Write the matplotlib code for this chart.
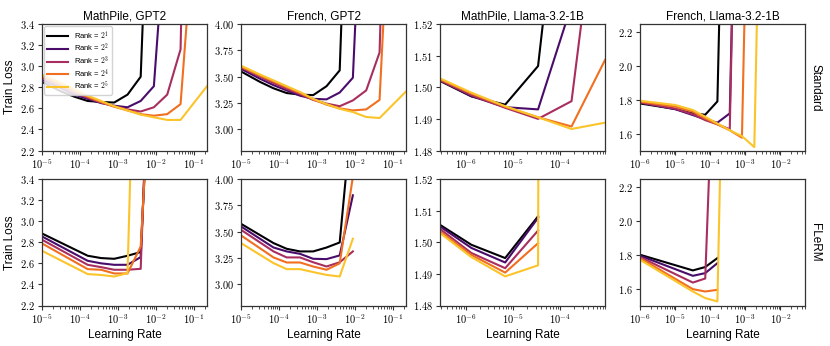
import numpy as np
import matplotlib
matplotlib.use("Agg")
import matplotlib.pyplot as plt
from matplotlib.ticker import FuncFormatter, LogLocator, FixedLocator

plt.rcParams['font.family'] = ['Liberation Sans', 'DejaVu Sans']
plt.rcParams['mathtext.fontset'] = 'cm'

nan = np.nan

# learning-rate grids
lr_gpt2 = [1e-5, 3.2e-5, 7.2e-5, 1.6e-4, 3.6e-4, 8e-4, 1.8e-3, 4e-3, 8.9e-3, 2e-2, 4.5e-2, 1e-1, 2.24e-1]
lr_gpt2_flerm = [1e-5, 7.2e-5, 1.6e-4, 3.6e-4, 8e-4, 1.8e-3, 4e-3, 8.9e-3]
lr_llama = [2.8e-7, 1.3e-6, 6.8e-6, 3.4e-5, 1.75e-4, 9e-4]
lr_llama_fr = [1e-6, 1e-5, 3.2e-5, 7.2e-5, 1.6e-4, 3.6e-4, 8e-4, 1.8e-3, 4e-3]

ranks = [1, 2, 3, 4, 5]

# Standard parametrisation, one row per rank
math_gpt2_std = [
    [2.85, 2.76, 2.71, 2.67, 2.66, 2.655, 2.73, 2.90, 6.2, nan, nan, nan, nan],
    [2.87, 2.79, 2.73, 2.69, 2.65, 2.625, 2.61, 2.67, 2.81, 4.55, nan, nan, nan],
    [2.89, 2.81, 2.75, 2.70, 2.655, 2.62, 2.59, 2.57, 2.61, 2.73, 3.16, 9.0, nan],
    [2.90, 2.82, 2.76, 2.71, 2.66, 2.615, 2.58, 2.545, 2.53, 2.545, 2.64, 4.3, nan],
    [2.92, 2.84, 2.78, 2.72, 2.67, 2.62, 2.58, 2.54, 2.515, 2.49, 2.49, nan, 2.81],
]
french_gpt2_std = [
    [3.55, 3.45, 3.39, 3.345, 3.33, 3.325, 3.41, 3.56, 7.1, nan, nan, nan, nan],
    [3.575, 3.48, 3.42, 3.37, 3.32, 3.29, 3.285, 3.35, 3.49, 6.3, nan, nan, nan],
    [3.59, 3.50, 3.44, 3.385, 3.335, 3.28, 3.245, 3.22, 3.275, 3.37, 3.73, 8.0, nan],
    [3.595, 3.51, 3.455, 3.40, 3.345, 3.285, 3.235, 3.20, 3.18, 3.19, 3.28, 5.8, nan],
    [3.605, 3.52, 3.465, 3.41, 3.355, 3.29, 3.24, 3.195, 3.165, 3.118, 3.108, nan, 3.36],
]
math_llama_std = [
    [1.502, 1.4971, 1.4945, 1.5067, 1.6, nan],
    [1.5023, 1.4972, 1.4937, 1.493, 1.526, nan],
    [1.5022, 1.4975, 1.4935, 1.490, 1.4956, 1.58],
    [1.5025, 1.498, 1.4938, 1.4905, 1.4876, 1.5086],
    [1.5028, 1.4983, 1.494, 1.4905, 1.4868, 1.4888],
]
french_llama_std = [
    [1.779, 1.746, 1.72, 1.712, 1.791, 5.0, nan, nan, nan],
    [1.785, 1.745, 1.71, 1.685, 1.665, 1.72, 5.0, nan, nan],
    [1.785, 1.748, 1.715, 1.68, 1.655, 1.626, 5.0, nan, nan],
    [1.79, 1.76, 1.73, 1.69, 1.655, 1.62, 1.576, 5.0, nan],
    [1.795, 1.77, 1.74, 1.70, 1.66, 1.62, 1.585, 1.52, 5.0],
]

# FLeRM
math_gpt2_flerm = [
    [2.883, nan, 2.672, 2.65, 2.643, 2.672, 2.707, 5.2],
    [2.855, nan, 2.624, 2.60, 2.586, 2.586, 2.659, 5.5],
    [2.824, nan, 2.586, 2.564, 2.539, 2.539, 2.548, 6.0],
    [2.789, nan, 2.545, 2.539, 2.504, 2.504, 2.76, 5.0],
    [2.719, nan, 2.498, 2.49, 2.475, 2.507, 7.0, nan],
]
french_gpt2_flerm = [
    [3.575, 3.392, 3.338, 3.313, 3.313, 3.35, 3.398, 4.73],
    [3.55, 3.35, 3.313, 3.29, 3.243, 3.24, 3.275, 3.845],
    [3.518, 3.313, 3.256, 3.256, 3.21, 3.17, 3.21, 3.313],
    [3.465, 3.256, 3.208, 3.208, 3.17, 3.139, 3.2, 4.02],
    [3.392, 3.202, 3.145, 3.145, 3.117, 3.09, 3.075, 3.433],
]
math_llama_flerm = [
    [1.5055, 1.4992, 1.495, 1.5082, nan, nan],
    [1.505, 1.4982, 1.4936, 1.5077, nan, nan],
    [1.5042, 1.4966, 1.4918, 1.5037, nan, nan],
    [1.5034, 1.496, 1.4904, 1.4997, nan, nan],
    [1.5029, 1.4953, 1.4892, 1.4927, 5.0, nan],
]
french_llama_flerm = [
    [1.801, nan, 1.708, 1.728, 1.781, nan, nan, nan, nan],
    [1.795, nan, 1.676, 1.692, 1.751, nan, nan, nan, nan],
    [1.787, nan, 1.636, 1.66, 3.6, nan, nan, nan, nan],
    [1.781, nan, 1.597, 1.583, 1.593, nan, nan, nan, nan],
    [1.771, nan, 1.583, 1.544, 1.524, 5.0, nan, nan, nan],
]

titles = ['MathPile, GPT2', 'French, GPT2', 'MathPile, Llama-3.2-1B', 'French, Llama-3.2-1B']
row_names = ['Standard', 'FLeRM']

panels = [
    [(lr_gpt2, math_gpt2_std), (lr_gpt2, french_gpt2_std), (lr_llama, math_llama_std), (lr_llama_fr, french_llama_std)],
    [(lr_gpt2_flerm, math_gpt2_flerm), (lr_gpt2_flerm, french_gpt2_flerm), (lr_llama, math_llama_flerm), (lr_llama_fr, french_llama_flerm)],
]

xlims = [(1e-5, 0.224), (1e-5, 0.224), (2.8e-7, 9e-4), (1e-6, 5e-2)]
ylims = [(2.2, 3.4), (2.8, 4.0), (1.48, 1.52), (1.5, 2.25)]
yticks = [np.arange(2.2, 3.41, 0.2), [3.0, 3.25, 3.5, 3.75, 4.0], np.arange(1.48, 1.521, 0.01), [1.6, 1.8, 2.0, 2.2]]
ydec = [1, 2, 2, 1]

colors = [plt.cm.inferno(v) for v in [0.0, 0.22, 0.45, 0.68, 0.86]]

fig = plt.figure(figsize=(8.3, 3.46), dpi=100)
W, H = 830, 346
col_left = [42, 241, 440, 640]
row_top = [24, 179]
ax_w, ax_h = 165, 126.5


def log_fmt(v, pos):
    return '$10^{%d}$' % int(round(np.log10(v)))


for r in range(2):
    for c in range(4):
        ax = fig.add_axes([col_left[c] / W, 1 - (row_top[r] + ax_h) / H, ax_w / W, ax_h / H])
        lr, losses = panels[r][c]
        x = np.array(lr)
        for k, ys in enumerate(losses):
            y = np.array(ys)
            m = ~np.isnan(y)
            ax.plot(x[m], y[m], color=colors[k], lw=1.5, label='Rank = $2^{%d}$' % ranks[k])
        ax.set_xscale('log')
        ax.set_xlim(*xlims[c])
        ax.set_ylim(*ylims[c])
        ax.yaxis.set_major_locator(FixedLocator(yticks[c]))
        d = ydec[c]
        ax.yaxis.set_major_formatter(FuncFormatter(lambda v, p, d=d: '$%.*f$' % (d, v)))
        ax.xaxis.set_major_locator(LogLocator(base=10, numticks=12))
        ax.xaxis.set_minor_locator(LogLocator(base=10, subs=np.arange(2, 10), numticks=12))
        ax.xaxis.set_major_formatter(FuncFormatter(log_fmt))
        ax.tick_params(axis='both', which='major', labelsize=7.5, length=3, width=0.8, pad=2, color='#333333')
        ax.tick_params(axis='x', which='minor', length=1.8, width=0.6, color='#333333')
        for s in ax.spines.values():
            s.set_linewidth(0.9)
            s.set_color('#333333')
        if r == 0:
            ax.set_title(titles[c], fontsize=8.5, pad=3)
        else:
            ax.set_xlabel('Learning Rate', fontsize=8.5, labelpad=2)
        if c == 0:
            ax.set_ylabel('Train Loss', fontsize=8.5, labelpad=3)
        if c == 3:
            ax.text(1.025, 0.5, row_names[r], transform=ax.transAxes, rotation=-90,
                    va='center', ha='left', fontsize=8.5)
        if r == 0 and c == 0:
            ax.legend(loc='upper left', fontsize=5.5, handlelength=2.8, handletextpad=0.7,
                      labelspacing=0.0, borderpad=0.35, borderaxespad=0.3,
                      framealpha=0.85, edgecolor='#cccccc')

fig.savefig('out.png', dpi=100)
